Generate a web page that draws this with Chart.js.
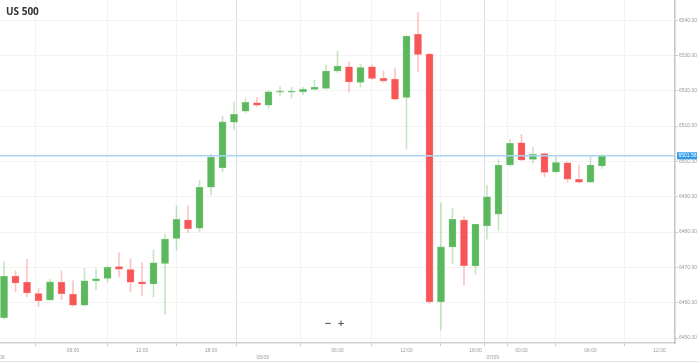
<!DOCTYPE html>
<html>
<head>
<meta charset="utf-8">
<script src="https://cdn.jsdelivr.net/npm/chart.js@4"></script>
<style>
  html, body { margin: 0; padding: 0; background: #fff; }
  #wrap { width: 699px; height: 362px; position: relative; }
</style>
</head>
<body>
<div id="wrap"><canvas id="priceChart"></canvas></div>
<script>
// hourly candles
const opens = [6455.8, 6467.5, 6465.8, 6462.6, 6460.8, 6465.8, 6462.4, 6459.3, 6466.2, 6466.9,
  6470.2, 6469.4, 6465.9, 6465.3, 6471.1, 6478.2, 6483.4, 6481.1, 6492.7, 6498.2,
  6511.1, 6514.2, 6516.6, 6515.9, 6519.6, 6519.6, 6519.7, 6520.4, 6520.7, 6525.6,
  6526.8, 6522.4, 6526.8, 6523.5, 6523.3, 6518.1, 6536.0, 6530.4, 6460.3, 6475.8,
  6483.4, 6470.4, 6481.8, 6485.1, 6499.0, 6505.3, 6500.6, 6502.2, 6497.1, 6499.6,
  6494.9, 6494.1, 6498.7];
const highs = [6471.6, 6469.0, 6472.3, 6464.0, 6466.6, 6469.0, 6466.2, 6469.7, 6469.5, 6470.4,
  6474.1, 6472.4, 6471.3, 6474.9, 6479.4, 6487.4, 6487.4, 6494.7, 6502.0, 6512.8,
  6516.9, 6517.8, 6518.1, 6520.0, 6521.1, 6521.0, 6521.0, 6523.0, 6527.3, 6531.2,
  6528.2, 6527.5, 6527.3, 6525.6, 6526.3, 6535.6, 6542.1, 6530.6, 6488.3, 6486.7,
  6484.3, 6482.3, 6493.3, 6500.6, 6506.2, 6507.7, 6504.0, 6502.4, 6501.5, 6499.9,
  6499.0, 6501.5, 6502.0];
const lows = [6455.5, 6463.1, 6461.7, 6458.9, 6460.6, 6460.9, 6459.0, 6459.0, 6463.6, 6465.9,
  6467.3, 6463.1, 6461.9, 6461.6, 6456.7, 6474.9, 6479.9, 6480.0, 6490.5, 6497.0,
  6508.9, 6513.8, 6515.5, 6515.0, 6518.5, 6518.0, 6518.8, 6520.2, 6520.4, 6525.1,
  6519.7, 6521.1, 6523.2, 6522.4, 6517.4, 6503.5, 6525.4, 6459.8, 6452.3, 6471.1,
  6465.0, 6468.1, 6478.0, 6480.4, 6498.6, 6500.2, 6499.6, 6495.6, 6496.8, 6494.2,
  6493.9, 6494.0, 6498.0];
const closes = [6467.5, 6465.6, 6462.8, 6460.6, 6465.9, 6462.6, 6459.3, 6466.2, 6466.8, 6470.0,
  6469.5, 6465.8, 6465.3, 6471.3, 6478.0, 6483.6, 6481.0, 6492.7, 6501.2, 6511.2,
  6513.3, 6516.7, 6515.9, 6519.7, 6519.9, 6519.9, 6520.4, 6521.0, 6525.6, 6527.0,
  6522.5, 6526.6, 6523.5, 6522.8, 6517.6, 6535.5, 6530.3, 6460.3, 6475.8, 6483.6,
  6470.5, 6482.2, 6490.0, 6499.0, 6505.1, 6500.4, 6502.0, 6496.9, 6499.7, 6495.0,
  6494.1, 6499.0, 6501.6];

// x ticks, in candle index units
const timeTickPos = [-0.5, 6, 12, 18, 22.5, 29, 35, 41, 42.5, 45, 51, 57];
const timeTickLabels = ['04/09', '06:00', '12:00', '18:00', '05/09', '06:00', '12:00', '18:00', '07/09', '00:00', '06:00', '12:00'];
const dateTicks = ['04/09', '05/09', '07/09'];
const priceTicks = [6450, 6460, 6470, 6480, 6490, 6500, 6510, 6520, 6530, 6540];
const lastPrice = 6501.6;
const lastPriceLabel = '6501.58';
const symbolName = 'US 500';

const green = '#5cb85c';
const red = '#f75656';

const bodies = opens.map((o, i) => ({ x: i, y: [o, closes[i]] }));
const wicks = lows.map((l, i) => ({ x: i, y: [l, highs[i]] }));
const isUp = i => closes[i] >= opens[i];

const overlay = {
  id: 'overlay',
  afterDraw(chart) {
    const c = chart.ctx;
    const area = chart.chartArea;
    const y = chart.scales.y.getPixelForValue(lastPrice);
    c.save();
    // last price line
    c.strokeStyle = '#a9d5f3';
    c.lineWidth = 1.5;
    c.beginPath();
    c.moveTo(area.left, y);
    c.lineTo(area.right, y);
    c.stroke();
    // last price tag
    c.fillStyle = '#2f9be9';
    c.fillRect(area.right + 2, y - 3.5, 20, 7);
    c.fillStyle = '#fff';
    c.font = '5px "Liberation Sans", Arial, sans-serif';
    c.textBaseline = 'middle';
    c.fillText(lastPriceLabel, area.right + 3.5, y + 0.3);
    // title
    c.fillStyle = '#333';
    c.font = 'bold 10px "Open Sans", sans-serif';
    c.textBaseline = 'alphabetic';
    c.fillText(symbolName, 6, 15);
    // zoom buttons
    c.fillStyle = '#555';
    c.font = 'bold 9px "DejaVu Sans", sans-serif';
    c.textAlign = 'center';
    c.fillText('\u2212', 328, 326);
    c.fillText('+', 341, 326);
    // bottom rule
    c.strokeStyle = '#e6e6e6';
    c.lineWidth = 1;
    c.beginPath();
    c.moveTo(0, 361.5);
    c.lineTo(699, 361.5);
    c.stroke();
    c.restore();
  }
};

const ctx = document.getElementById('priceChart').getContext('2d');
const priceChart = new Chart(ctx, {
  type: 'bar',
  data: {
    datasets: [{
      label: 'body',
      data: bodies,
      order: 0,
      grouped: false,
      barThickness: 7,
      backgroundColor: c => isUp(c.dataIndex) ? green : red,
      borderColor: c => isUp(c.dataIndex) ? '#7fca7f' : '#f98080',
      borderWidth: 0.6,
      borderSkipped: false
    }, {
      label: 'wick',
      data: wicks,
      order: 1,
      grouped: false,
      barThickness: 1,
      backgroundColor: c => isUp(c.dataIndex) ? 'rgba(92,184,92,0.35)' : 'rgba(247,86,86,0.35)',
      borderWidth: 0
    }]
  },
  options: {
    responsive: true,
    maintainAspectRatio: false,
    animation: false,
    layout: { padding: 0 },
    plugins: {
      legend: { display: false },
      tooltip: { enabled: false }
    },
    scales: {
      x: {
        type: 'linear',
        min: -0.35,
        max: 58.35,
        offset: false,
        afterBuildTicks: scale => {
          scale.ticks = timeTickPos.map(v => ({ value: v }));
        },
        afterFit: scale => {
          scale.height = 19;
          scale.paddingLeft = 0;
          scale.paddingRight = 0;
        },
        ticks: {
          autoSkip: false,
          maxRotation: 0,
          padding: 1,
          color: '#9a9a9a',
          font: { size: 5, family: '"Liberation Sans", Arial, sans-serif', lineHeight: 1.4 },
          callback: (v, i) => {
            const t = timeTickLabels[i];
            return dateTicks.includes(t) ? ['', t] : t;
          }
        },
        grid: {
          color: c => (c.tick && dateTicks.includes(timeTickLabels[c.index])) ? '#dedede' : '#f3f3f3',
          lineWidth: 1,
          tickLength: 3,
          tickColor: '#c8c8c8'
        },
        border: { color: '#cfcfcf', width: 1.5 }
      },
      y: {
        position: 'right',
        min: 6448.6,
        max: 6545.7,
        afterBuildTicks: scale => {
          scale.ticks = priceTicks.map(v => ({ value: v }));
        },
        afterFit: scale => {
          scale.width = 24;
          scale.paddingTop = 0;
          scale.paddingBottom = 0;
        },
        ticks: {
          padding: 1,
          color: '#9a9a9a',
          font: { size: 5, family: '"Liberation Sans", Arial, sans-serif' },
          callback: v => v.toFixed(2)
        },
        grid: {
          color: '#f3f3f3',
          tickLength: 3,
          tickColor: '#c8c8c8'
        },
        border: { color: '#c4c4c4', width: 1.5 }
      }
    }
  },
  plugins: [overlay]
});
</script>
</body>
</html>
